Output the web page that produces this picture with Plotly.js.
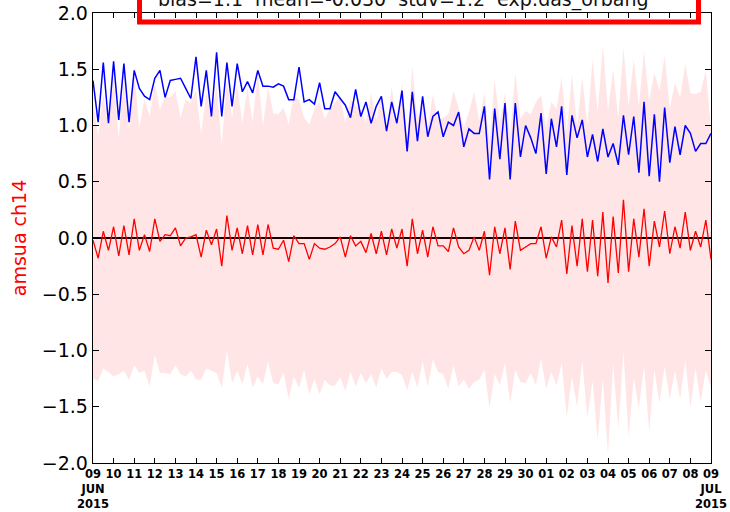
<!DOCTYPE html>
<html>
<head>
<meta charset="utf-8">
<script src="https://cdn.plot.ly/plotly-3.0.1.min.js"></script>
<style>html,body{margin:0;padding:0;background:#fff;}#chart{width:730px;height:512px;}</style>
</head>
<body>
<div id="chart"></div>
<script>
// 6-hourly samples from 2015-06-09 00Z to 2015-07-09 00Z
const startDate = '2015-06-09';
const stepHours = 6;

// blue line
const blueSeries = [
  1.40,1.03,1.56,1.02,1.57,1.05,1.55,1.03,1.49,1.33,
  1.26,1.23,1.42,1.49,1.25,1.40,1.41,1.42,1.33,1.24,
  1.61,1.17,1.49,1.08,1.65,1.08,1.56,1.17,1.55,1.30,
  1.39,1.29,1.49,1.35,1.35,1.34,1.37,1.35,1.23,1.23,
  1.52,1.21,1.23,1.19,1.38,1.15,1.15,1.30,1.24,1.18,
  1.07,1.32,1.08,1.21,1.02,1.17,1.26,0.95,1.21,1.02,
  1.31,0.77,1.30,0.86,1.26,0.90,1.08,1.12,0.90,1.03,
  1.00,1.12,0.81,0.97,0.93,0.93,1.17,0.52,1.15,0.70,
  1.20,0.52,1.20,0.72,1.00,0.89,0.75,1.11,0.57,1.06,
  0.81,1.17,0.56,1.09,0.89,1.05,0.72,0.92,0.68,0.97,
  0.72,0.84,0.65,1.09,0.74,1.08,0.58,1.21,0.55,1.10,
  0.50,1.16,0.67,0.99,0.74,1.00,0.93,0.77,0.84,0.84,
  0.93
];

// red line (mean)
const meanSeries = [
  -0.02,-0.18,0.06,-0.11,0.10,-0.16,0.11,-0.15,0.17,-0.11,
  0.03,-0.12,0.17,-0.03,0.03,0.02,0.09,-0.07,0.00,0.01,
  0.03,-0.17,0.07,-0.06,0.08,-0.25,0.20,-0.11,0.09,-0.14,
  0.11,-0.15,0.12,-0.15,0.12,-0.09,-0.10,-0.02,-0.21,0.02,
  -0.05,-0.05,-0.19,-0.05,-0.09,-0.10,-0.08,-0.05,0.01,-0.17,
  0.02,-0.07,-0.03,-0.13,0.04,-0.14,0.06,-0.15,0.08,-0.09,
  0.08,-0.25,0.17,-0.14,0.07,-0.17,0.10,-0.07,-0.07,-0.12,
  0.09,-0.08,-0.14,-0.11,0.01,-0.11,0.06,-0.33,0.10,-0.14,
  0.09,-0.28,0.15,-0.11,-0.08,-0.05,-0.05,0.10,-0.18,0.01,
  -0.08,0.16,-0.32,0.11,-0.25,0.17,-0.30,0.16,-0.34,0.23,
  -0.40,0.19,-0.31,0.34,-0.30,0.17,-0.17,0.26,-0.25,0.15,
  -0.08,0.24,-0.14,0.10,-0.09,0.23,-0.11,0.06,-0.08,0.16,
  -0.19
];

// standard deviation (half-width of the pink band)
const stdvSeries = [
  1.23,1.09,1.22,1.08,1.33,1.05,1.29,1.11,1.30,1.09,
  1.21,1.20,1.21,1.17,1.23,1.23,1.22,1.14,1.23,1.19,
  1.29,1.09,1.23,1.12,1.28,1.08,1.20,1.18,1.27,1.16,
  1.23,1.18,1.35,1.15,1.22,1.20,1.20,1.18,1.22,1.25,
  1.28,1.12,1.20,1.20,1.30,1.16,1.23,1.26,1.25,1.19,
  1.21,1.25,1.17,1.16,1.25,1.19,1.22,1.10,1.27,1.10,
  1.30,1.10,1.36,1.19,1.17,1.15,1.18,1.12,1.14,1.22,
  1.22,1.24,1.12,1.23,1.29,1.15,1.23,1.18,1.31,1.17,
  1.20,1.19,1.32,1.17,1.21,1.15,1.26,1.17,1.16,1.20,
  1.23,1.27,1.27,1.34,1.25,1.26,1.30,1.43,1.46,1.48,
  1.53,1.31,1.38,1.35,1.47,1.42,1.34,1.40,1.47,1.32,
  1.39,1.38,1.29,1.28,1.34,1.32,1.40,1.22,1.38,1.33,
  1.15
];

const tickLabels = ['09<br>JUN<br>2015','10','11','12','13','14','15','16','17','18','19','20','21','22','23','24','25','26','27','28','29','30','01','02','03','04','05','06','07','08','09<br>JUL<br>2015'];
const yTickVals = [-2.0,-1.5,-1.0,-0.5,0.0,0.5,1.0,1.5,2.0];
const titleText = 'bias=1.1\u00a0\u00a0mean=-0.030\u00a0\u00a0stdv=1.2\u00a0\u00a0exp:das_orbang';
const yLabel = 'amsua ch14';

function fmt(ms){ return new Date(ms).toISOString().slice(0,19).replace('T',' '); }
const t0 = Date.parse(startDate + 'T00:00:00Z');
const xDates = meanSeries.map((_, i) => fmt(t0 + i*stepHours*3600e3));
const tickDates = tickLabels.map((_, d) => fmt(t0 + d*86400e3));
const upper = meanSeries.map((m, i) => m + stdvSeries[i]);
const lower = meanSeries.map((m, i) => m - stdvSeries[i]);

const traces = [
  {x:xDates, y:lower, type:'scatter', mode:'lines', line:{width:0, color:'rgba(0,0,0,0)'}, hoverinfo:'skip', showlegend:false},
  {x:xDates, y:upper, type:'scatter', mode:'lines', fill:'tonexty', fillcolor:'rgba(255,0,0,0.1)', line:{width:0, color:'rgba(0,0,0,0)'}, hoverinfo:'skip', showlegend:false},
  {x:xDates, y:blueSeries, type:'scatter', mode:'lines', line:{color:'#0000ff', width:1.5}, showlegend:false},
  {x:xDates, y:meanSeries, type:'scatter', mode:'lines', line:{color:'#ff0000', width:1.3}, showlegend:false}
];

const layout = {
  width:730, height:512,
  margin:{l:93, r:19, t:13, b:49, pad:0},
  paper_bgcolor:'#fff', plot_bgcolor:'#fff',
  font:{family:'DejaVu Sans', color:'#000'},
  showlegend:false,
  xaxis:{
    type:'date', range:[tickDates[0], tickDates[tickDates.length-1]],
    tickmode:'array', tickvals:tickDates, ticktext:tickLabels,
    ticks:'inside', ticklen:5, tickwidth:1, tickcolor:'#000',
    showline:true, linecolor:'#000', linewidth:1.3, mirror:'allticks',
    showgrid:false, zeroline:false,
    tickfont:{family:'DejaVu Sans', size:11.5, color:'#000', weight:'bold'},
    tickangle:0
  },
  yaxis:{
    range:[-2,2], tickmode:'array', tickvals:yTickVals,
    ticktext:yTickVals.map(v => (v<0?'\u2212':'') + Math.abs(v).toFixed(1)),
    ticks:'inside', ticklen:6, tickwidth:1, tickcolor:'#000',
    showline:true, linecolor:'#000', linewidth:1.3, mirror:'allticks',
    showgrid:false,
    zeroline:true, zerolinecolor:'#000', zerolinewidth:1.3,
    tickfont:{family:'DejaVu Sans', size:19, color:'#000'},
    title:{text:yLabel, font:{family:'DejaVu Sans', size:19, color:'#ff0000'}, standoff:10}
  },
  shapes:[
    {type:'rect', xref:'paper', yref:'paper', x0:(139.5-93)/618, x1:(698.5-93)/618, y0:(463-22)/450, y1:(463+12)/450,
     line:{color:'#ff0000', width:5}, fillcolor:'rgba(0,0,0,0)', layer:'above'}
  ],
  annotations:[
    {text:titleText, xref:'paper', yref:'paper', x:(156-93)/618, xanchor:'left', y:(463-0)/450, yanchor:'middle',
     showarrow:false, font:{family:'DejaVu Sans', size:19, color:'#111'}}
  ]
};

Plotly.newPlot('chart', traces, layout, {staticPlot:true, displayModeBar:false});
</script>
</body>
</html>
